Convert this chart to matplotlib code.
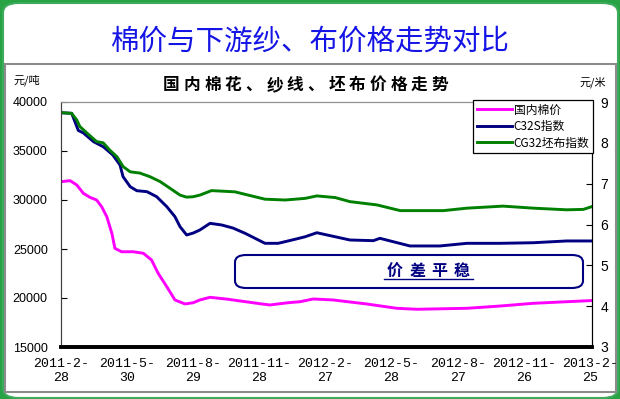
import matplotlib
matplotlib.use('Agg')
import matplotlib.pyplot as plt
from matplotlib.patches import FancyBboxPatch, Rectangle
from matplotlib.lines import Line2D
import pandas as pd

plt.rcParams['font.family'] = ['Noto Sans CJK SC', 'DejaVu Sans']

# weeks since 2011-02-28
start = '2011-02-28'
tick_weeks = [0, 13, 26, 39, 52, 65, 78, 91, 104]

# 国内棉价 (元/吨)
cotton_wk = [0, 1.8, 3.1, 4.4, 5.7, 7, 8, 9, 10, 10.6, 11.9, 14.2, 16.2, 17.8, 19.1, 20.8, 22.4, 24.4, 26,
             27.3, 29.3, 32.9, 33.8, 39.5, 41.1, 44.7, 47, 49.6, 53.5, 60.1, 66, 70, 79.8, 86.3, 92.9, 99.4, 104.4]
cotton = [31870, 31970, 31530, 30680, 30270, 30000, 29310, 28300, 26600, 25070, 24720, 24720, 24560, 23880,
          22520, 21150, 19800, 19390, 19520, 19800, 20070, 19870, 19800, 19390, 19290, 19520, 19620, 19900,
          19800, 19390, 18950, 18850, 18950, 19180, 19460, 19620, 19740]

# C32S指数 (元/吨)
yarn_wk = [0, 2.1, 3.4, 4.4, 6.4, 8.3, 10.2, 11.6, 12.2, 13.6, 14.9, 16.9, 18.8, 20.8, 22.4, 23.4, 24.7, 26,
           27.3, 29.3, 31.6, 33.8, 36.2, 40.1, 42.7, 46, 48, 50.3, 53.9, 56.8, 61.4, 62.7, 68.6, 74.5, 79.8,
           86.3, 92.9, 99.4, 104.4]
yarn = [38900, 38850, 37100, 36840, 35950, 35440, 34590, 33570, 32380, 31360, 30950, 30850, 30340, 29320,
        28300, 27280, 26430, 26630, 26940, 27620, 27450, 27140, 26600, 25580, 25580, 25990, 26250, 26660,
        26250, 25920, 25850, 26090, 25310, 25310, 25580, 25580, 25640, 25820, 25820]

# CG32坯布指数 (元/米)
cloth_wk = [0, 2.1, 3.1, 3.7, 5.1, 7.0, 8.3, 9.6, 11.0, 12.2, 13.6, 15.5, 17.5, 19.5, 21.4, 23.4, 24.7, 26.0,
            27.3, 29.6, 34.2, 36.8, 40.1, 44.1, 48.0, 50.3, 53.9, 56.8, 62.1, 66.7, 75.2, 79.8, 86.9, 92.9,
            99.4, 102.7, 104.4]
cloth = [8.74, 8.72, 8.56, 8.40, 8.24, 8.03, 8.00, 7.82, 7.66, 7.42, 7.29, 7.26, 7.17, 7.05, 6.89, 6.72, 6.67,
         6.68, 6.72, 6.83, 6.80, 6.72, 6.62, 6.60, 6.64, 6.70, 6.66, 6.56, 6.48, 6.34, 6.34, 6.40, 6.45, 6.40,
         6.36, 6.37, 6.44]

W, H = 620, 399


def fx(x):
    return x / W


def fy(y):
    return 1 - y / H


fig = plt.figure(figsize=(W / 100, H / 100), dpi=100, facecolor='#27a345')

# white rounded panel and inner chart frame
fig.patches.append(FancyBboxPatch((fx(3), fy(398)), fx(615), 395 / H, boxstyle='round,pad=0,rounding_size=0.025',
                                  transform=fig.transFigure, facecolor='white', edgecolor='#3daa5c', lw=1.5,
                                  zorder=-2))
fig.patches.append(Rectangle((fx(5), fy(392)), fx(611), 328 / H, transform=fig.transFigure,
                             facecolor='white', edgecolor='#8c8c8c', lw=1.5, zorder=-1))

fig.text(fx(310), fy(42), '棉价与下游纱、布价格走势对比', color='#1414e6', fontsize=20.5,
         ha='center', va='center')

# chart title with wide letter spacing
title = '国内棉花、纱线、坯布价格走势'
for i, ch in enumerate(title):
    fig.text(fx(171 + i * 20.7), fy(85), ch, fontsize=12, fontweight='bold', ha='center', va='center')

fig.text(fx(13), fy(80), '元/吨', fontsize=8, ha='left', va='center')
fig.text(fx(579), fy(82), '元/米', fontsize=8, ha='left', va='center')

ax = fig.add_axes([fx(61), fy(347), fx(592 - 61), (347 - 102) / H])
ax.set_facecolor('none')
ax.plot(cotton_wk, cotton, color='#ff00ff', lw=2.1, label='国内棉价')
ax.plot(yarn_wk, yarn, color='#000080', lw=2.1, label='C32S指数')
ax.set_xlim(0, 104.4)
ax.set_ylim(15000, 40000)
ax.set_yticks(range(15000, 40001, 5000))
ax.tick_params(axis='y', direction='in', length=4, pad=9.5, labelsize=9)
for t in ax.get_yticklabels():
    t.set_fontfamily('Liberation Sans')

dates = pd.to_datetime(start) + pd.to_timedelta([w * 7 for w in tick_weeks], unit='D')
labels = [f'{d.year}-{d.month}-\n{d.day}' for d in dates]
ax.set_xticks(tick_weeks)
ax.set_xticklabels(labels, fontfamily='Liberation Mono', fontsize=9.5, linespacing=1.2)
ax.tick_params(axis='x', length=0, pad=8)

ax2 = ax.twinx()
ax2.plot(cloth_wk, cloth, color='#008000', lw=2.1, label='CG32坯布指数')
ax2.set_ylim(3, 9)
ax2.set_yticks(range(3, 10))
ax2.tick_params(axis='y', direction='in', length=4, pad=6, labelsize=10)
for t in ax2.get_yticklabels():
    t.set_fontfamily('Liberation Sans')

for a in (ax, ax2):
    a.spines['top'].set_color('#909090')
    a.spines['left'].set_color('#404040')
    a.spines['right'].set_color('black')
    a.spines['bottom'].set_color('black')
    a.spines['bottom'].set_linewidth(2.6)

handles = ax.get_lines() + ax2.get_lines()
leg = ax2.legend(handles, [h.get_label() for h in handles], loc='upper right',
                 bbox_to_anchor=(fx(593), fy(100)), bbox_transform=fig.transFigure,
                 fontsize=8.5, frameon=True, fancybox=False, edgecolor='black', framealpha=1,
                 borderaxespad=0, borderpad=0.3, labelspacing=0.3, handlelength=3.0,
                 handletextpad=0.15)
leg.get_frame().set_linewidth(0.9)

# 价差平稳 callout
fig.patches.append(FancyBboxPatch((fx(235), fy(288)), fx(348), 33 / H,
                                  boxstyle='round,pad=0,rounding_size=0.018', transform=fig.transFigure,
                                  facecolor='none', edgecolor='#000080', lw=1.5, zorder=3))
for i, ch in enumerate('价差平稳'):
    fig.text(fx(395 + i * 22.3), fy(271), ch, fontsize=11.5, color='#000080', ha='center', va='center',
             fontweight='bold')
fig.lines.append(Line2D([fx(384), fx(473)], [fy(279), fy(279)], transform=fig.transFigure,
                        color='#000080', lw=1))

fig.savefig('out.png', dpi=100, facecolor=fig.get_facecolor())
